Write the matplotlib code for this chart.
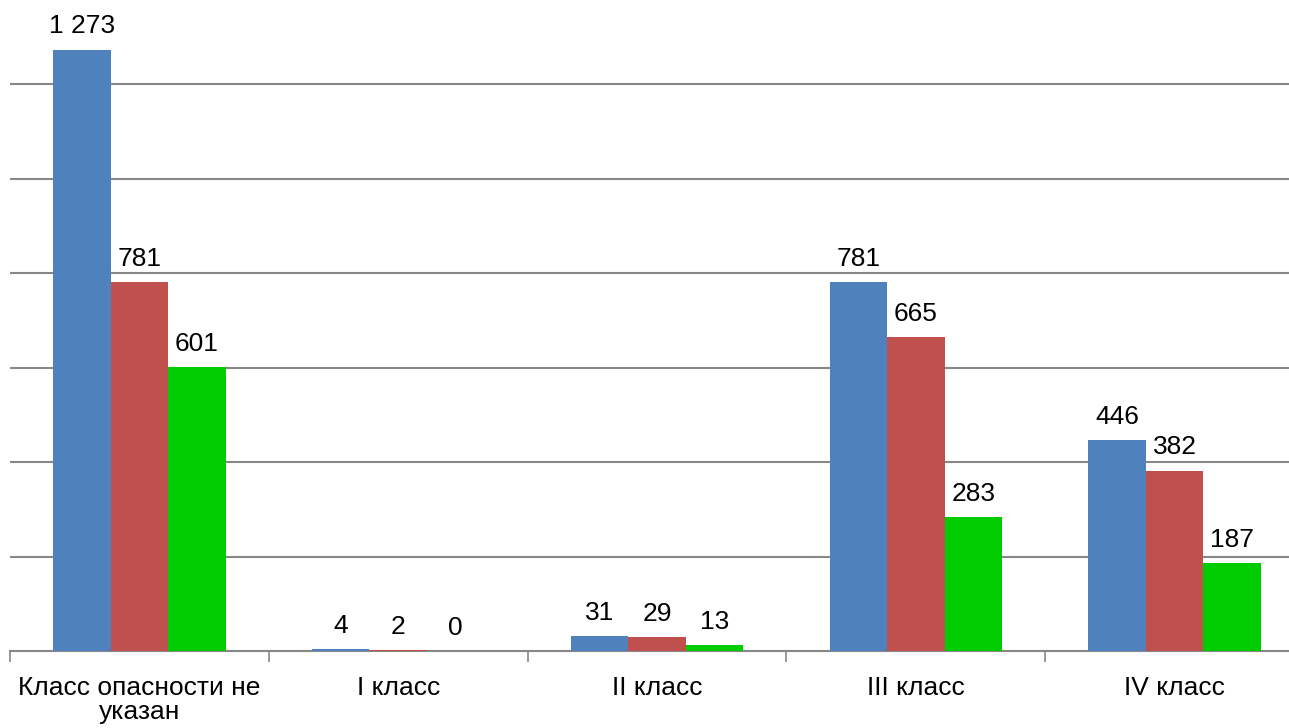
import matplotlib.pyplot as plt
import numpy as np

plt.rcParams['font.family'] = ['Liberation Sans', 'DejaVu Sans']

# categories and series values
categories = ["Класс опасности не\nуказан", "I класс", "II класс", "III класс", "IV класс"]
series_a = [1273, 4, 31, 781, 446]
series_b = [781, 2, 29, 665, 382]
series_c = [601, 0, 13, 283, 187]
value_labels_a = ["1 273", "4", "31", "781", "446"]
value_labels_b = ["781", "2", "29", "665", "382"]
value_labels_c = ["601", "0", "13", "283", "187"]

colors = ["#4F81BD", "#C0504D", "#00CC00"]
grid_color = "#878787"

fig = plt.figure(figsize=(12.89, 7.28), dpi=100)
# axes run a bit past the right edge, like the original picture
ax = fig.add_axes([10/1289, 77/728, 1294/1289, 651/728])

x = np.arange(len(categories))
w = 1 / 4.5  # gap width 150%

all_series = [series_a, series_b, series_c]
all_labels = [value_labels_a, value_labels_b, value_labels_c]
for i, (vals, labs) in enumerate(zip(all_series, all_labels)):
    pos = x + (i - 1) * w
    ax.bar(pos, vals, width=w, color=colors[i], zorder=5)
    for p, v, t in zip(pos, vals, labs):
        ax.annotate(t, (p, v), xytext=(0, 8), textcoords="offset points",
                    ha="center", va="bottom", fontsize=19)

ax.set_xlim(-0.5, len(categories) - 0.5)
ax.set_ylim(0, 1378)
ax.set_yticks([200, 400, 600, 800, 1000, 1200])
ax.yaxis.grid(True, color=grid_color, linewidth=1.5, zorder=0)
ax.tick_params(axis="y", length=0, labelleft=False)

ax.set_xticks(np.arange(len(categories) + 1) - 0.5, minor=False)
ax.set_xticklabels([])
ax.set_xticks(x, minor=True)
ax.set_xticklabels(categories, minor=True, fontsize=19, linespacing=1.0)
ax.tick_params(axis="x", which="major", length=8, width=1.2, color=grid_color)
ax.tick_params(axis="x", which="minor", length=0, pad=18)

for s in ["top", "right", "left"]:
    ax.spines[s].set_visible(False)
ax.spines["bottom"].set_color(grid_color)
ax.spines["bottom"].set_linewidth(1.5)
ax.spines["bottom"].set_zorder(4)

fig.savefig("out.png", dpi=100)
